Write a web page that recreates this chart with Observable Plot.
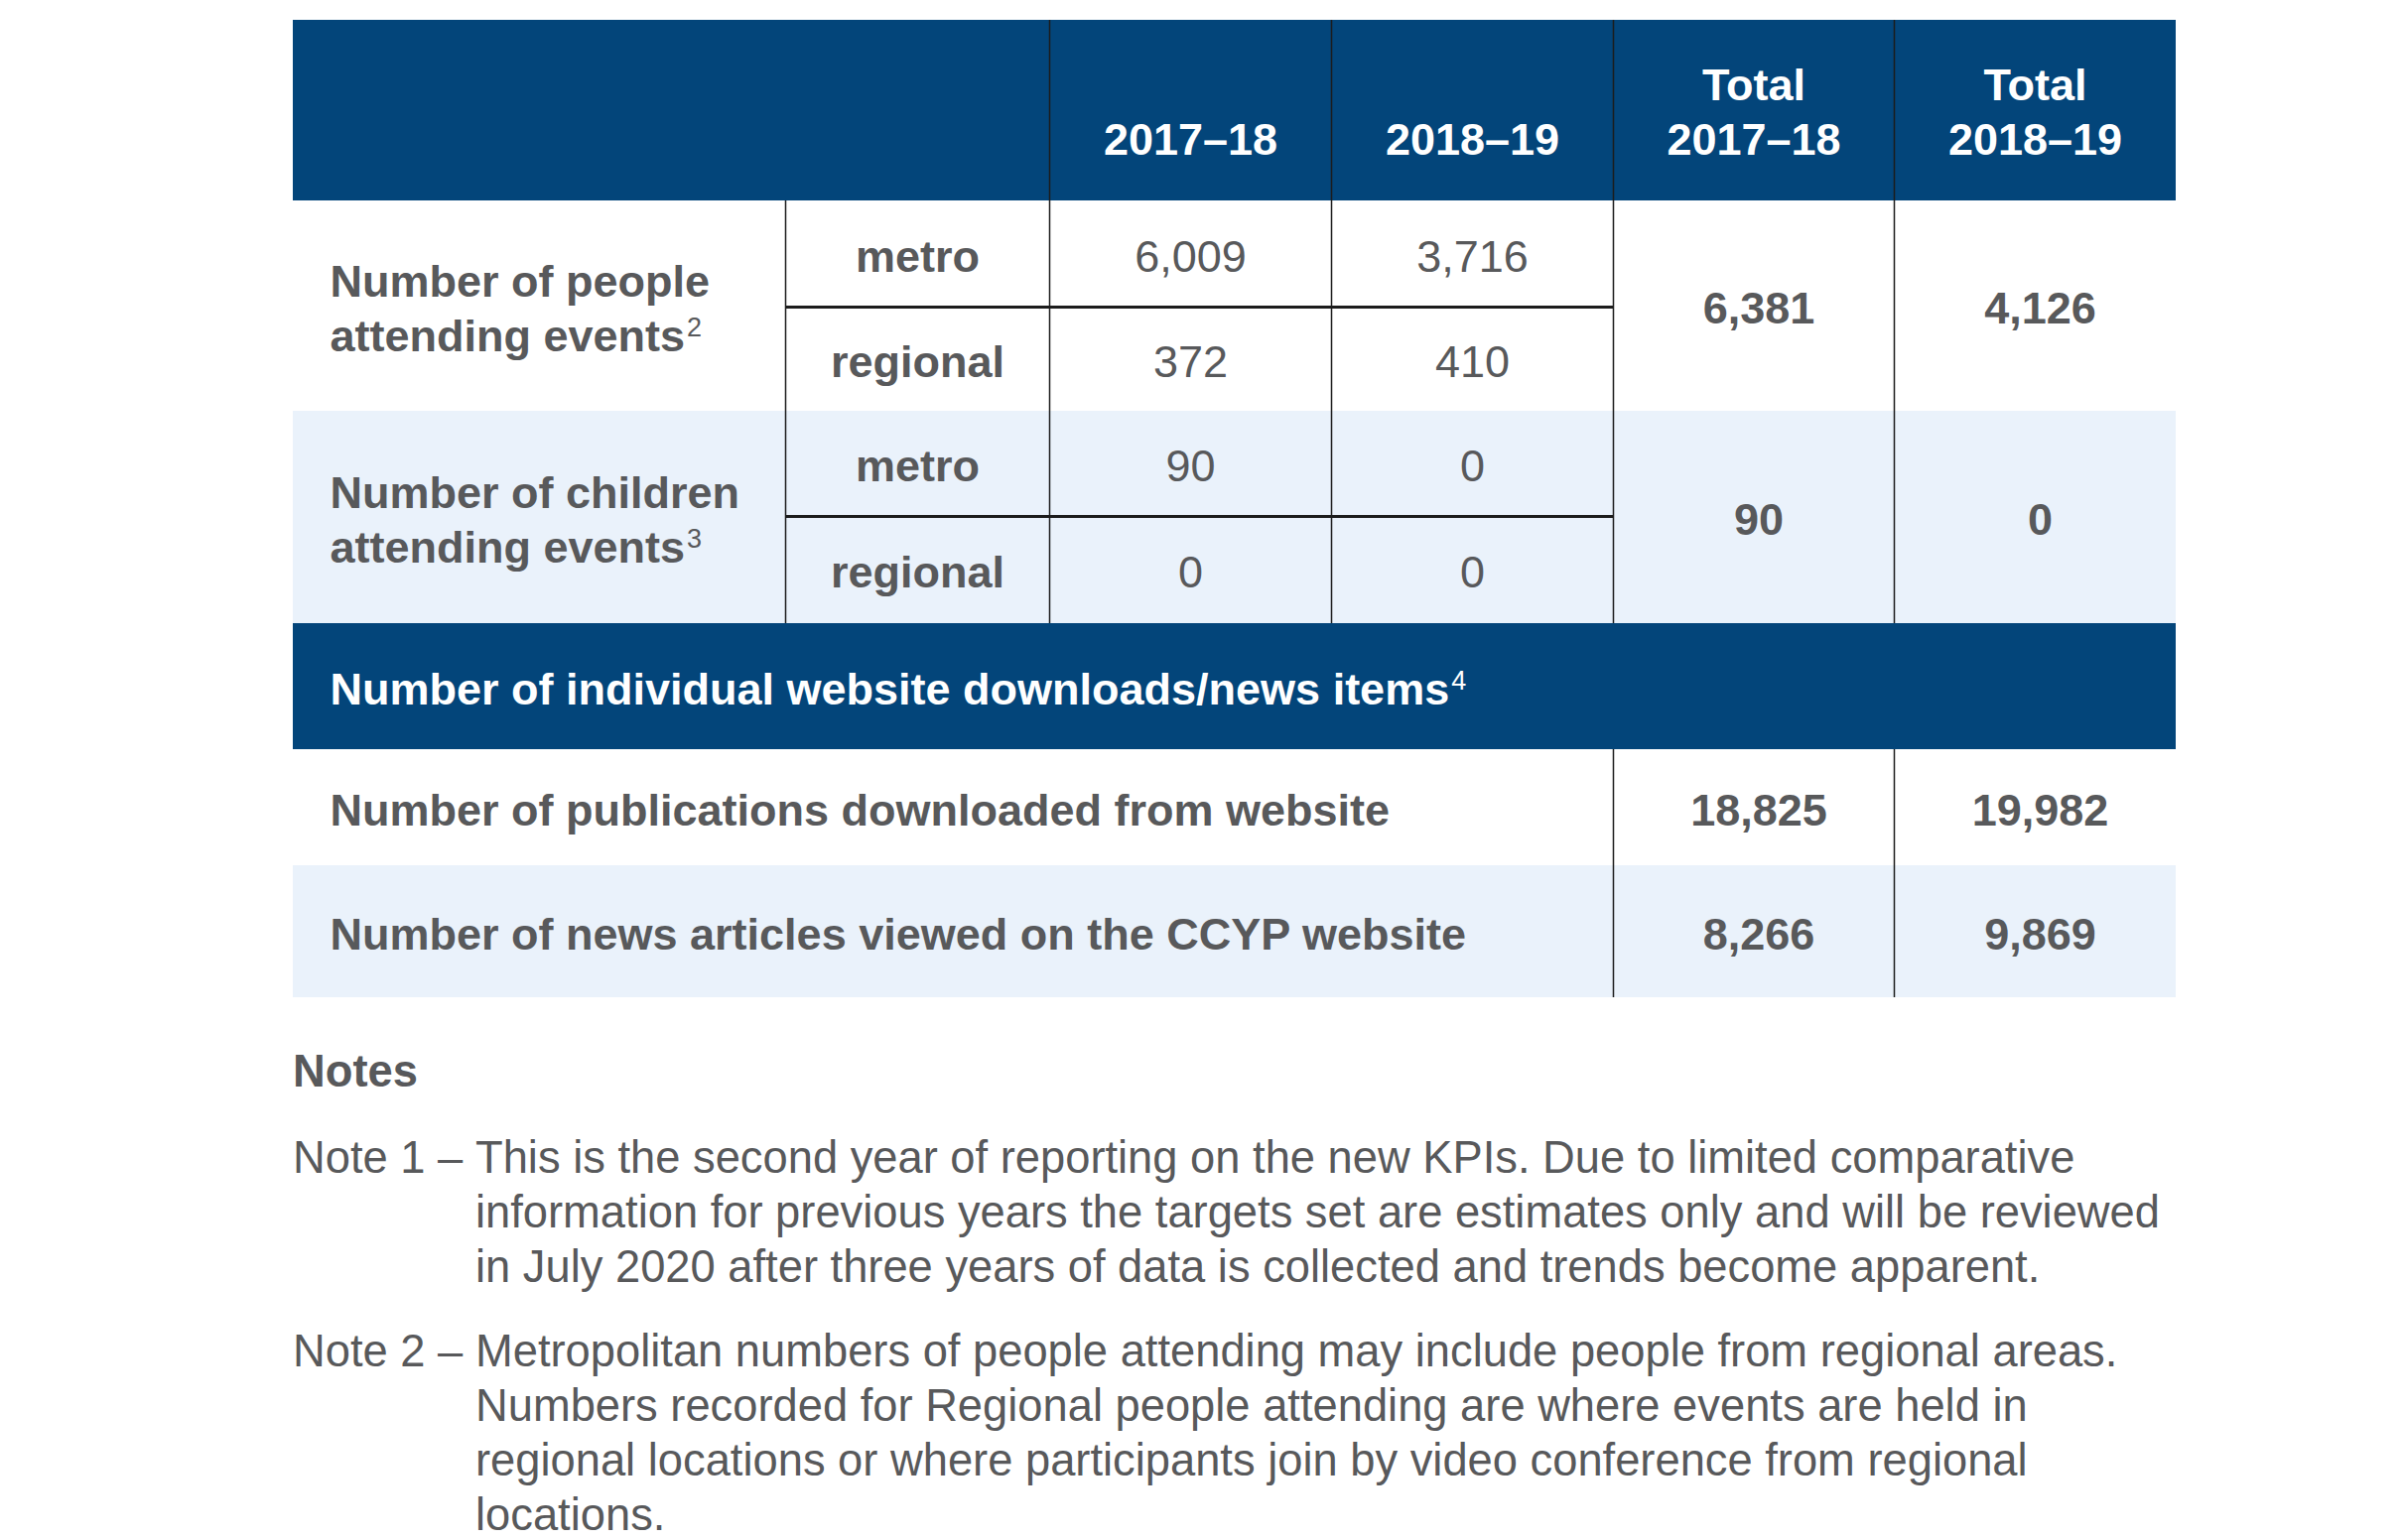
<!DOCTYPE html>
<html>
<head>
<meta charset="utf-8">
<script src="https://cdn.jsdelivr.net/npm/d3@7"></script>
<script src="https://cdn.jsdelivr.net/npm/@observablehq/plot@0.6"></script>
<style>
  html, body { margin: 0; padding: 0; background: #ffffff; }
  body { font-family: "Liberation Sans", Arial, Helvetica, sans-serif; color: #58595b; }
  #chart svg { display: block; }
  #notes { margin-left: 295px; width: 1897px; font-size: 45.3px; line-height: 55px; }
  #notes .title { font-weight: bold; margin-top: 22px; }
  #notes .note { display: grid; grid-template-columns: 184px 1fr; margin-top: 32px; }
  #notes .note + .note { margin-top: 30px; }
  #notes .lab { white-space: nowrap; }
  #notes .txt div { white-space: nowrap; }
</style>
</head>
<body>
<div id="chart"></div>
<div id="notes"></div>
<script>
// ---------------- data ----------------
const headerTop = ["", "", "", "", "Total", "Total"];
const headerYears = ["", "", "2017–18", "2018–19", "2017–18", "2018–19"];
const groupLabels = ["Number of people\nattending events", "Number of children\nattending events"];
const groupNoteRefs = ["2", "3"];
const areas = ["metro", "regional"];
const people201718 = [6009, 372];
const people201819 = [3716, 410];
const children201718 = [90, 0];
const children201819 = [0, 0];
const groupTotal201718 = [6381, 90];
const groupTotal201819 = [4126, 0];
const sectionTitle = "Number of individual website downloads/news items";
const sectionNoteRef = "4";
const websiteLabels = ["Number of publications downloaded from website", "Number of news articles viewed on the CCYP website"];
const websiteTotal201718 = [18825, 8266];
const websiteTotal201819 = [19982, 9869];
const notesTitle = "Notes";
const noteLabels = ["Note 1 –", "Note 2 –"];
const noteLines = [
  ["This is the second year of reporting on the new KPIs. Due to limited comparative",
   "information for previous years the targets set are estimates only and will be reviewed",
   "in July 2020 after three years of data is collected and trends become apparent."],
  ["Metropolitan numbers of people attending may include people from regional areas.",
   "Numbers recorded for Regional people attending are where events are held in",
   "regional locations or where participants join by video conference from regional",
   "locations."]
];

// ---------------- layout ----------------
const colWidths = [496, 266, 284, 284, 283, 284];
const rowHeights = [182, 107, 105, 106, 108, 127, 117, 133];
const cx = [0]; colWidths.forEach(w => cx.push(cx[cx.length - 1] + w));
const ry = [0]; rowHeights.forEach(h => ry.push(ry[ry.length - 1] + h));
const W = cx[cx.length - 1], H = ry[ry.length - 1];
const colMid = i => (cx[i] + cx[i + 1]) / 2;
const rowMid = (a, b) => (ry[a] + ry[b]) / 2;
const pad = 37;

const DARK = "#03457a", LIGHT = "#eaf2fb", GRAY = "#58595b", LINE = "#1c1c1c";
const FS = 45, LH = 55 / 45;
const fmt = d3.format(",");

// backgrounds
const darkBands = [{y1: ry[0], y2: ry[1]}, {y1: ry[5], y2: ry[6]}];
const lightBands = [{y1: ry[3], y2: ry[5]}, {y1: ry[7], y2: ry[8]}];

// vertical lines
const vlines = [
  {x: cx[1], y1: ry[1], y2: ry[5]},
  {x: cx[2], y1: ry[0], y2: ry[5]},
  {x: cx[3], y1: ry[0], y2: ry[5]},
  {x: cx[4], y1: ry[0], y2: ry[5]},
  {x: cx[5], y1: ry[0], y2: ry[5]},
  {x: cx[4], y1: ry[6], y2: ry[8]},
  {x: cx[5], y1: ry[6], y2: ry[8]}
];
const hlines = [{y: ry[2]}, {y: ry[4]}];

// header texts
const headerCells = headerYears.map((yr, i) => ({
  x: colMid(i), y: ry[1] - 47,
  text: headerTop[i] ? headerTop[i] + "\n" + yr : yr
})).filter(d => d.text);

// group labels
const groupCells = groupLabels.map((t, g) => ({
  x: cx[0] + pad, y: rowMid(1 + 2 * g, 3 + 2 * g), text: t + "^" + groupNoteRefs[g]
}));
// areas
const areaCells = [];
[0, 1].forEach(g => areas.forEach((a, k) => areaCells.push({x: colMid(1), y: rowMid(1 + 2 * g + k, 2 + 2 * g + k), text: a})));
// values
const valueCells = [];
[[people201718, people201819], [children201718, children201819]].forEach(([v1, v2], g) => {
  areas.forEach((a, k) => {
    const y = rowMid(1 + 2 * g + k, 2 + 2 * g + k);
    valueCells.push({x: colMid(2), y, text: fmt(v1[k])});
    valueCells.push({x: colMid(3), y, text: fmt(v2[k])});
  });
});
// totals
const totalCells = [];
[0, 1].forEach(g => {
  const y = rowMid(1 + 2 * g, 3 + 2 * g);
  totalCells.push({x: colMid(4), y, text: fmt(groupTotal201718[g])});
  totalCells.push({x: colMid(5), y, text: fmt(groupTotal201819[g])});
});
websiteLabels.forEach((l, k) => {
  const y = rowMid(6 + k, 7 + k);
  totalCells.push({x: colMid(4), y, text: fmt(websiteTotal201718[k])});
  totalCells.push({x: colMid(5), y, text: fmt(websiteTotal201819[k])});
});
const websiteCells = websiteLabels.map((l, k) => ({x: cx[0] + pad, y: rowMid(6 + k, 7 + k), text: l}));
const sectionCells = [{x: cx[0] + pad, y: rowMid(5, 6), text: sectionTitle + "^" + sectionNoteRef}];

const textOpts = {x: "x", y: "y", text: "text", fontSize: FS, lineHeight: LH};

const chart = Plot.plot({
  width: 2422,
  height: 1030,
  marginLeft: 295,
  marginRight: 230,
  marginTop: 20,
  marginBottom: 25,
  x: {domain: [0, W], axis: null},
  y: {domain: [0, H], reverse: true, axis: null},
  style: {fontFamily: "'Liberation Sans', Arial, Helvetica, sans-serif", background: "#ffffff"},
  marks: [
    Plot.rect(darkBands, {x1: () => 0, x2: () => W, y1: "y1", y2: "y2", fill: DARK}),
    Plot.rect(lightBands, {x1: () => 0, x2: () => W, y1: "y1", y2: "y2", fill: LIGHT}),
    Plot.ruleX(vlines, {x: "x", y1: "y1", y2: "y2", stroke: LINE, strokeWidth: 1.5}),
    Plot.ruleY(hlines, {y: "y", x1: () => cx[1], x2: () => cx[4], stroke: LINE, strokeWidth: 3}),
    Plot.text(headerCells, {...textOpts, lineAnchor: "bottom", fill: "#ffffff", fontWeight: "bold"}),
    Plot.text(groupCells, {...textOpts, textAnchor: "start", lineAnchor: "middle", fill: GRAY, fontWeight: "bold"}),
    Plot.text(areaCells, {...textOpts, lineAnchor: "middle", fill: GRAY, fontWeight: "bold"}),
    Plot.text(valueCells, {...textOpts, lineAnchor: "middle", fill: GRAY}),
    Plot.text(totalCells, {...textOpts, lineAnchor: "middle", fill: GRAY, fontWeight: "bold", dx: 5}),
    Plot.text(websiteCells, {...textOpts, textAnchor: "start", lineAnchor: "middle", fill: GRAY, fontWeight: "bold"}),
    Plot.text(sectionCells, {...textOpts, textAnchor: "start", lineAnchor: "middle", fill: "#ffffff", fontWeight: "bold"})
  ]
});

// superscript note references
const ns = "http://www.w3.org/2000/svg";
chart.querySelectorAll("text, tspan").forEach(el => {
  Array.from(el.childNodes).forEach(node => {
    if (node.nodeType !== 3) return;
    const m = node.data.match(/^(.*)\^(\d)$/s);
    if (!m) return;
    node.data = m[1];
    const s = document.createElementNS(ns, "tspan");
    s.textContent = m[2];
    s.setAttribute("font-size", "27");
    s.setAttribute("font-weight", "normal");
    s.setAttribute("dx", "2");
    s.setAttribute("dy", "-15");
    el.insertBefore(s, node.nextSibling);
  });
});

document.getElementById("chart").appendChild(chart);

// notes
const notes = d3.select("#notes");
notes.append("div").attr("class", "title").text(notesTitle);
noteLabels.forEach((lab, i) => {
  const n = notes.append("div").attr("class", "note");
  n.append("div").attr("class", "lab").text(lab);
  const t = n.append("div").attr("class", "txt");
  noteLines[i].forEach(line => t.append("div").text(line));
});
</script>
</body>
</html>
